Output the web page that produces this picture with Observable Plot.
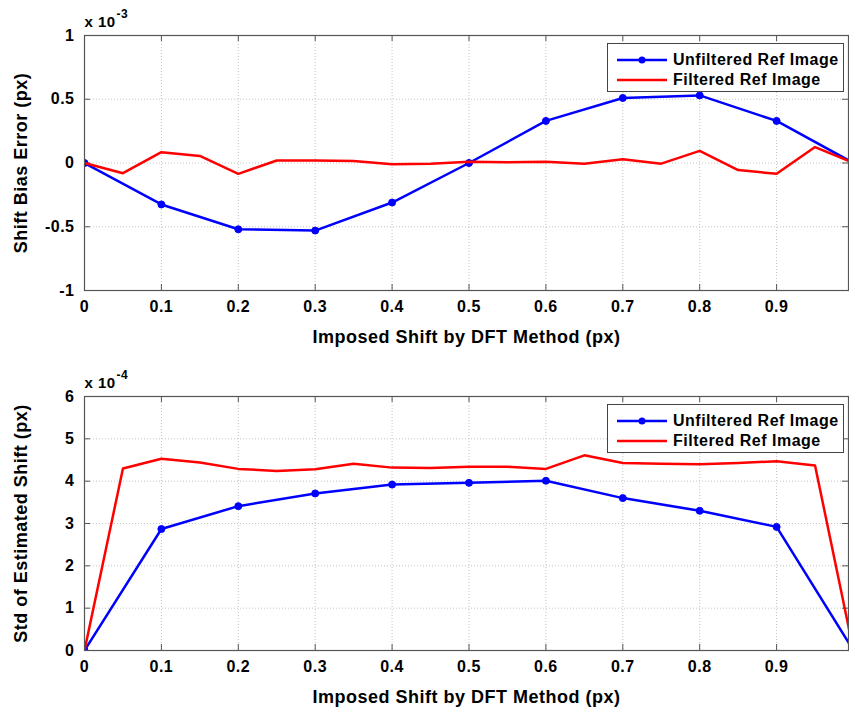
<!DOCTYPE html>
<html>
<head>
<meta charset="utf-8">
<script src="https://cdn.jsdelivr.net/npm/d3@7"></script>
<script src="https://cdn.jsdelivr.net/npm/@observablehq/plot@0.6"></script>
<style>
  html, body { margin: 0; padding: 0; background: #fff; }
  #wrap { position: relative; width: 849px; height: 710px; font-family: "Liberation Sans", Arial, sans-serif; font-weight: bold; }
  #wrap svg { display: block; }
  .legend { position: absolute; left: 607px; width: 235px; height: 47px; border: 1px solid #444; background: #fff; font-size: 16px; font-weight: bold; color: #000; letter-spacing: 0.5px; }
  .legend .row { position: absolute; left: 0; height: 20px; display: flex; align-items: center; white-space: nowrap; }
  .legend svg { margin-left: 9px; margin-right: 6px; }
</style>
</head>
<body>
<div id="wrap"></div>
<script>
// ---- data ----
const xUnfiltered = [0, 0.1, 0.2, 0.3, 0.4, 0.5, 0.6, 0.7, 0.8, 0.9, 1.0];
const xFiltered = [0, 0.05, 0.1, 0.15, 0.2, 0.25, 0.3, 0.35, 0.4, 0.45, 0.5, 0.55, 0.6, 0.65, 0.7, 0.75, 0.8, 0.85, 0.9, 0.95, 1.0];
// Shift bias error (x 10^-3 px)
const biasUnfiltered = [0, -0.325, -0.52, -0.53, -0.31, 0, 0.33, 0.51, 0.53, 0.33, 0];
const biasFiltered = [0, -0.08, 0.085, 0.055, -0.085, 0.02, 0.02, 0.015, -0.01, -0.005, 0.01, 0.005, 0.01, -0.005, 0.03, -0.005, 0.095, -0.055, -0.085, 0.125, 0];
// Std of estimated shift (x 10^-4 px)
const stdUnfiltered = [0, 2.87, 3.41, 3.71, 3.92, 3.96, 4.01, 3.60, 3.30, 2.92, 0];
const stdFiltered = [0, 4.30, 4.53, 4.44, 4.29, 4.24, 4.28, 4.41, 4.32, 4.31, 4.34, 4.34, 4.29, 4.61, 4.43, 4.41, 4.40, 4.43, 4.47, 4.37, 0];

const xTicks = [0, 0.1, 0.2, 0.3, 0.4, 0.5, 0.6, 0.7, 0.8, 0.9];
const yTicksTop = [-1, -0.5, 0, 0.5, 1];
const yTicksBottom = [0, 1, 2, 3, 4, 5, 6];
const seriesNames = ["Unfiltered Ref Image", "Filtered Ref Image"];
const xTitle = "Imposed Shift by DFT Method (px)";
const yTitleTop = "Shift Bias Error (px)";
const yTitleBottom = "Std of Estimated Shift (px)";
const exponentTop = "-3";
const exponentBottom = "-4";

// ---- helpers ----
const BLUE = "#0000ff", RED = "#ff0000", AXIS = "#555", GRID = "#c4c4c4";
const fmt = d => String(d).replace("\u2212", "-");

function panel({yValsU, yValsF, yDomain, yTicks, yTitle, exponent, height, marginTop, marginBottom}) {
  const width = 849, marginLeft = 84, marginRight = 1;
  const innerW = width - marginLeft - marginRight;
  const innerH = height - marginTop - marginBottom;
  const unf = xUnfiltered.map((x, i) => ({x, y: yValsU[i]}));
  const fil = xFiltered.map((x, i) => ({x, y: yValsF[i]}));
  const textStyle = {fontSize: 16, fontWeight: "bold", fill: "#000"};
  return Plot.plot({
    width, height, marginLeft, marginRight, marginTop, marginBottom,
    style: {fontFamily: "'Liberation Sans', Arial, sans-serif", fontWeight: "bold", fontSize: "16px", color: "#000", background: "#fff", overflow: "visible", letterSpacing: "0.5px"},
    x: {domain: [0, 0.9935], axis: null},
    y: {domain: yDomain, axis: null},
    marks: [
      Plot.gridX(xTicks, {stroke: GRID, strokeOpacity: 1, strokeDasharray: "1,2"}),
      Plot.gridY(yTicks, {stroke: GRID, strokeOpacity: 1, strokeDasharray: "1,2"}),
      Plot.tickX(xTicks, {x: d => d, insetTop: innerH - 6, stroke: AXIS}),
      Plot.tickX(xTicks, {x: d => d, insetBottom: innerH - 6, stroke: AXIS}),
      Plot.tickY(yTicks, {y: d => d, insetRight: innerW - 6, stroke: AXIS}),
      Plot.tickY(yTicks, {y: d => d, insetLeft: innerW - 6, stroke: AXIS}),
      Plot.axisX(xTicks, {tickSize: 0, tickPadding: 10, tickFormat: fmt, label: null, ...textStyle}),
      Plot.axisY(yTicks, {tickSize: 0, tickPadding: 10, tickFormat: fmt, label: null, ...textStyle}),
      Plot.line(unf, {x: "x", y: "y", stroke: BLUE, strokeWidth: 2.5, clip: true}),
      Plot.dot(unf, {x: "x", y: "y", r: 3.5, fill: BLUE, stroke: BLUE, strokeWidth: 1, clip: true}),
      Plot.line(fil, {x: "x", y: "y", stroke: RED, strokeWidth: 2.5, clip: true}),
      Plot.frame({stroke: AXIS, strokeWidth: 1.2}),
      Plot.text([xTitle], {frameAnchor: "bottom", textAnchor: "middle", lineAnchor: "middle", dy: 47, text: d => d, fontSize: 18, fontWeight: "bold", fill: "#000"}),
      Plot.text([yTitle], {frameAnchor: "left", textAnchor: "middle", lineAnchor: "middle", dx: -63, rotate: -90, text: d => d, fontSize: 18, fontWeight: "bold", fill: "#000"}),
      Plot.text(["x 10"], {frameAnchor: "top-left", textAnchor: "start", lineAnchor: "middle", dy: -13, text: d => d, fontSize: 15, fontWeight: "bold", fill: "#000"}),
      Plot.text([exponent], {frameAnchor: "top-left", textAnchor: "start", lineAnchor: "middle", dx: 32, dy: -21, text: d => d, fontSize: 12, fontWeight: "bold", fill: "#000"})
    ]
  });
}

function legend(top) {
  const div = document.createElement("div");
  div.className = "legend";
  div.style.top = top + "px";
  const r1 = document.createElement("div");
  r1.className = "row"; r1.style.top = "6px";
  r1.innerHTML = `<svg width="50" height="10"><line x1="0" y1="5" x2="50" y2="5" stroke="${BLUE}" stroke-width="2.5"/><circle cx="25" cy="5" r="3.5" fill="${BLUE}"/></svg><span>${seriesNames[0]}</span>`;
  const r2 = document.createElement("div");
  r2.className = "row"; r2.style.top = "26px";
  r2.innerHTML = `<svg width="50" height="10"><line x1="0" y1="5" x2="50" y2="5" stroke="${RED}" stroke-width="2.5"/></svg><span>${seriesNames[1]}</span>`;
  div.appendChild(r1); div.appendChild(r2);
  return div;
}

const wrap = document.getElementById("wrap");
wrap.appendChild(panel({
  yValsU: biasUnfiltered, yValsF: biasFiltered, yDomain: [-1, 1], yTicks: yTicksTop,
  yTitle: yTitleTop, exponent: exponentTop, height: 355, marginTop: 35, marginBottom: 65
}));
wrap.appendChild(panel({
  yValsU: stdUnfiltered, yValsF: stdFiltered, yDomain: [0, 6], yTicks: yTicksBottom,
  yTitle: yTitleBottom, exponent: exponentBottom, height: 355, marginTop: 41, marginBottom: 60
}));
wrap.appendChild(legend(43));
wrap.appendChild(legend(404));
</script>
</body>
</html>
